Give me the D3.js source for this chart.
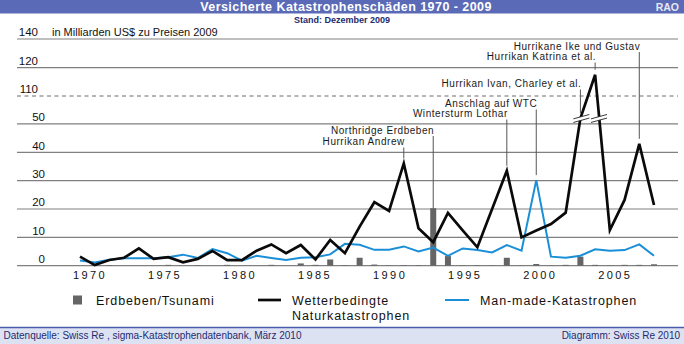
<!DOCTYPE html>
<html>
<head>
<meta charset="utf-8">
<script src="https://cdn.jsdelivr.net/npm/d3@7"></script>
<style>
  html, body { margin: 0; padding: 0; background: #fff; }
  svg { display: block; font-family: "Liberation Sans", Arial, Helvetica, sans-serif; }
</style>
</head>
<body>
<svg id="chart" width="684" height="344"></svg>
<script>
// Insured catastrophe losses, bn US$ at 2009 prices
const years = d3.range(1970, 2010);
const weather = [3.2, 0.2, 2.0, 2.8, 6.1, 2.4, 3.0, 1.2, 2.4, 5.2,
                 2.0, 2.0, 5.3, 7.5, 4.4, 7.3, 2.2, 9.1, 4.4, 13.8,
                 22.4, 19.3, 36.1, 13.2, 8.3, 18.6, 12.5, 6.5, 20.0, 33.5,
                 10.0, 12.4, 14.7, 18.7, 52.0, 117.5, 12.6, 23.2, 43.0, 21.4];
const manMade = [1.8, 1.1, 2.1, 2.6, 2.6, 2.6, 3.0, 3.9, 2.7, 5.9,
                 4.4, 1.8, 3.5, 2.7, 2.0, 2.8, 3.0, 4.0, 7.7, 7.4,
                 5.6, 5.6, 6.8, 5.0, 6.4, 3.5, 6.1, 5.5, 4.7, 7.3,
                 5.3, 30.2, 3.2, 2.8, 3.5, 5.8, 5.3, 5.5, 7.5, 3.5];
const quake = [0, 0.4, 0.2, 0, 0, 0, 0.3, 0, 0.2, 0,
               0.3, 0, 0, 0.3, 0, 0.8, 0.3, 2.2, 0.2, 2.8,
               0.4, 0.1, 0.2, 0.2, 20.3, 3.4, 0.1, 0.2, 0.1, 2.8,
               0.1, 0.6, 0.1, 0.3, 3.2, 0.3, 0.1, 0.3, 0.3, 0.5];

const yTicks = [0, 10, 20, 30, 40, 50, 110, 120, 140];
const yearTicks = [1970, 1975, 1980, 1985, 1990, 1995, 2000, 2005];

const noteText = ["Hurrikane Ike und Gustav", "Hurrikan Katrina et al.", "Hurrikan Ivan, Charley et al.",
                  "Anschlag auf WTC", "Wintersturm Lothar", "Northridge Erdbeben", "Hurrikan Andrew"];
const noteYear = [2008, 2005, 2004, 2001, 1999, 1994, 1992];
const noteSeries = ["weather", "weather", "weather", "manMade", "weather", "quake", "weather"];

const legendText = ["Erdbeben/Tsunami", "Wetterbedingte", "Naturkatastrophen", "Man-made-Katastrophen"];
const titleText = "Versicherte Katastrophenschäden 1970 - 2009";
const subtitleText = "Stand: Dezember 2009";
const unitText = "in Milliarden US$ zu Preisen 2009";
const sourceText = "Datenquelle: Swiss Re , sigma-Katastrophendatenbank, März 2010";
const creditText = "Diagramm: Swiss Re 2010";

const series = { weather, manMade, quake };

const svg = d3.select("#chart");
const W = 684, H = 344;
const navy = "#1d2c6e";

// scales: the value axis is broken between 55 and 110
const x = d3.scaleLinear().domain([1970, 2009]).range([80, 654]);
const xLabel = d3.scaleLinear().domain([1970, 2005]).range([89.5, 614.7]);
const y = d3.scaleLinear().domain([0, 55, 110, 120, 140]).range([265.7, 109.8, 96, 67.7, 39]);

// header band
svg.append("rect").attr("x", 0).attr("y", 0).attr("width", W).attr("height", 13.5).attr("fill", "#5a6ab6");
svg.append("text").attr("x", 346).attr("y", 10.6).attr("text-anchor", "middle")
  .attr("fill", "#fff").attr("font-weight", "bold").attr("font-size", 12.5).attr("letter-spacing", 0.45)
  .text(titleText);
svg.append("text").attr("x", 679).attr("y", 10.8).attr("text-anchor", "end")
  .attr("fill", "#e6e8f2").attr("font-weight", "bold").attr("font-size", 10.5)
  .text("RAO");
svg.append("text").attr("x", 342).attr("y", 22.5).attr("text-anchor", "middle")
  .attr("fill", navy).attr("font-weight", "bold").attr("font-size", 9)
  .text(subtitleText);

// grid lines
svg.append("g").selectAll("line").data(yTicks).join("line")
  .attr("x1", 17).attr("x2", 678)
  .attr("y1", d => y(d)).attr("y2", d => y(d))
  .attr("stroke", d => d === 110 ? "#6a6a6a" : "#808080")
  .attr("stroke-width", d => d === 110 ? 1 : 1.2)
  .attr("stroke-dasharray", d => d === 110 ? "4,3.5" : null);

svg.append("g").selectAll("text").data(yTicks).join("text")
  .attr("x", d => d >= 100 ? 38 : 45)
  .attr("y", d => y(d) - 2.8)
  .attr("text-anchor", "end")
  .attr("font-size", 11.5).attr("fill", "#111")
  .text(d => d);

svg.append("text").attr("x", 52).attr("y", y(140) - 2.8)
  .attr("font-size", 11).attr("fill", "#111").text(unitText);

// year axis
const xAxis = svg.append("g").attr("transform", `translate(0,${y(0)})`)
  .call(d3.axisBottom(xLabel).tickValues(yearTicks).tickSize(0).tickPadding(6).tickFormat(d3.format("d")));
xAxis.select(".domain").remove();
xAxis.selectAll("text").attr("font-size", 11).attr("letter-spacing", 2.4)
  .attr("fill", "#111").attr("font-family", "'Liberation Sans', Arial, sans-serif");

// earthquake bars
const qData = years.map((yr, i) => ({ yr, v: quake[i] })).filter(d => d.v > 0);
svg.append("g").selectAll("rect").data(qData).join("rect")
  .attr("x", d => x(d.yr) - 3).attr("width", 6)
  .attr("y", d => y(d.v)).attr("height", d => y(0) - y(d.v))
  .attr("fill", "#656565");

// lines
const line = d3.line().x((d, i) => x(years[i])).y(d => y(d));
svg.append("path").datum(manMade).attr("d", line)
  .attr("fill", "none").attr("stroke", "#1a8fd8").attr("stroke-width", 2)
  .attr("stroke-linejoin", "miter");
svg.append("path").datum(weather).attr("d", line)
  .attr("fill", "none").attr("stroke", "#0a0a0a").attr("stroke-width", 2.7)
  .attr("stroke-linejoin", "miter");

// break marks where the weather line crosses the axis break
const yb = y(53);
const breaks = [];
for (let i = 0; i < weather.length - 1; i++) {
  const y0 = y(weather[i]), y1 = y(weather[i + 1]);
  if ((y0 - yb) * (y1 - yb) < 0) {
    const t = (yb - y0) / (y1 - y0);
    breaks.push({ cx: x(years[i]) + t * (x(years[i + 1]) - x(years[i])), cy: yb + 3 });
  }
}
const bk = svg.append("g");
breaks.forEach(b => {
  const hw = 8, tilt = 2.2, gap = 1.8;
  bk.append("path")
    .attr("d", `M${b.cx - hw},${b.cy + tilt - gap} L${b.cx + hw},${b.cy - tilt - gap} L${b.cx + hw},${b.cy - tilt + gap} L${b.cx - hw},${b.cy + tilt + gap}Z`)
    .attr("fill", "#fff");
  [-gap, gap].forEach(o => bk.append("line")
    .attr("x1", b.cx - hw).attr("y1", b.cy + tilt + o)
    .attr("x2", b.cx + hw).attr("y2", b.cy - tilt + o)
    .attr("stroke", "#222").attr("stroke-width", 0.9));
});

// annotations
const noteRowY = [49.5, 60, 87, 107, 117, 133.5, 145];
const notes = svg.append("g");
noteText.forEach((t, k) => {
  const yr = noteYear[k];
  const v = series[noteSeries[k]][yr - 1970];
  const lx = x(yr);
  const end = noteSeries[k] === "quake" ? y(v) : y(v) - 5;
  notes.append("line").attr("x1", lx).attr("x2", lx)
    .attr("y1", noteRowY[k] + 2.5).attr("y2", end)
    .attr("stroke", "#555").attr("stroke-width", 1);
  notes.append("text").attr("x", lx + 1).attr("y", noteRowY[k])
    .attr("text-anchor", "end").attr("font-size", 10).attr("letter-spacing", 0.55)
    .attr("fill", "#1a1a1a").text(t);
});

// legend
const lg = svg.append("g").attr("font-size", 12.5).attr("fill", "#111").attr("letter-spacing", 0.9);
lg.append("rect").attr("x", 73).attr("y", 295.5).attr("width", 9).attr("height", 9).attr("fill", "#656565");
lg.append("text").attr("x", 96).attr("y", 304.5).text(legendText[0]);
lg.append("line").attr("x1", 258).attr("x2", 281).attr("y1", 300).attr("y2", 300)
  .attr("stroke", "#0a0a0a").attr("stroke-width", 2.7);
lg.append("text").attr("x", 292).attr("y", 304.5).text(legendText[1]);
lg.append("text").attr("x", 292).attr("y", 320).text(legendText[2]);
lg.append("line").attr("x1", 445).attr("x2", 469).attr("y1", 300).attr("y2", 300)
  .attr("stroke", "#1a8fd8").attr("stroke-width", 2);
lg.append("text").attr("x", 480).attr("y", 304.5).text(legendText[3]);

// footer band
svg.append("rect").attr("x", 0).attr("y", 327).attr("width", W).attr("height", H - 327).attr("fill", "#dde2f3");
svg.append("line").attr("x1", 0).attr("x2", W).attr("y1", 327.5).attr("y2", 327.5)
  .attr("stroke", "#4a5cab").attr("stroke-width", 1.5);
svg.append("text").attr("x", 3.5).attr("y", 339).attr("font-size", 10).attr("fill", navy).text(sourceText);
svg.append("text").attr("x", 680).attr("y", 339).attr("text-anchor", "end")
  .attr("font-size", 10).attr("fill", navy).text(creditText);
</script>
</body>
</html>
